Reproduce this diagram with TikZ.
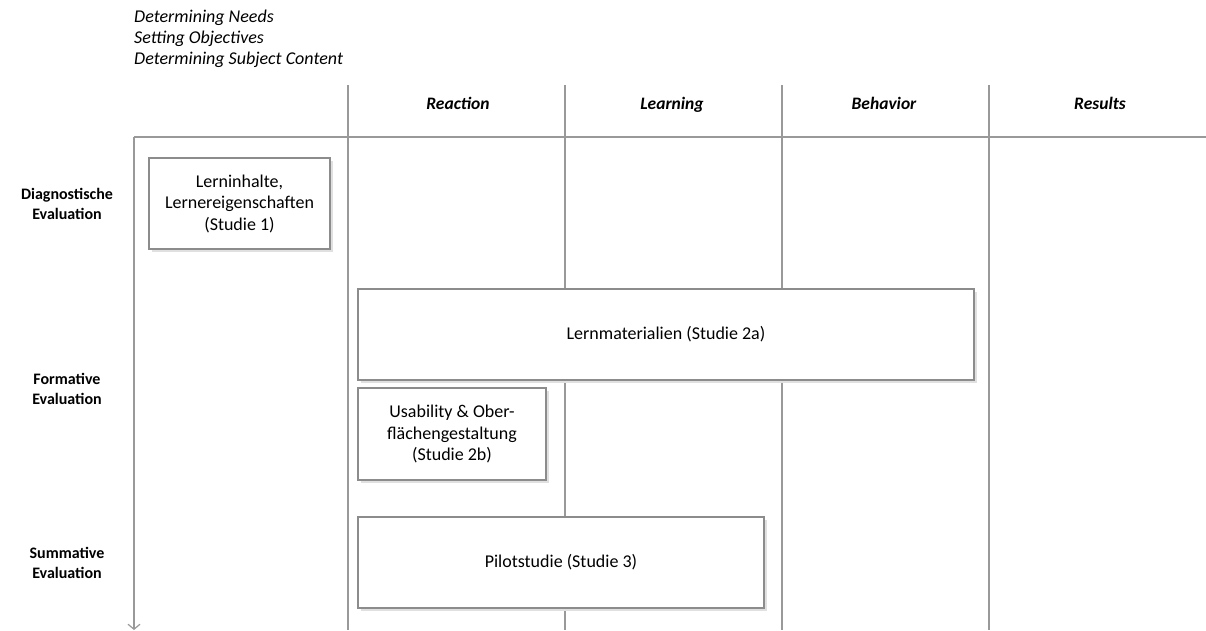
\documentclass[tikz,border=0pt]{standalone}
\usepackage{fontspec}
\setmainfont{Carlito}
\usetikzlibrary{arrows.meta}
\begin{document}
\begin{tikzpicture}[x=1pt,y=-1pt,
  gline/.style={draw=black!40, line width=1.2pt},
  sbox/.style={draw=black!45, line width=1.1pt, fill=white, align=center, font=\fontsize{18}{21.5}\selectfont, inner sep=0pt},
  rowlab/.style={font=\bfseries\fontsize{16}{20}\selectfont, align=center},
  colhead/.style={font=\bfseries\itshape\fontsize{17.5}{20}\selectfont, anchor=base},
  toptext/.style={font=\itshape\fontsize{18}{21}\selectfont, align=left, anchor=north west, inner sep=0pt}]
\useasboundingbox (0,0) rectangle (1206,630);
% top text
\node[toptext] (top) at (134,10) {Determining Needs\\Setting Objectives\\Determining Subject Content};
% column lines
\foreach \x/\n in {348/a,565/b,782/c,989/d}{
  \coordinate (ct\n) at (\x,85);
  \coordinate (cb\n) at (\x,630);
  \draw[gline] (ct\n) -- (cb\n);
}
% axes
\coordinate (origin) at (134,137);
\coordinate (xend) at (1206,137);
\coordinate (yend) at (134,630);
\draw[gline] (origin) -- (xend);
\draw[gline, -{Straight Barb[length=5pt,width=12pt]}] (origin) -- (yend);
% headers
\node[colhead] (h1) at (458,109) {Reaction};
\node[colhead] (h2) at (672,109) {Learning};
\node[colhead] (h3) at (884,109) {Behavior};
\node[colhead] (h4) at (1100,109) {Results};
% row labels
\node[rowlab] (r1) at (67,204) {Diagnostische\\Evaluation};
\node[rowlab] (r2) at (67,389) {Formative\\Evaluation};
\node[rowlab] (r3) at (67,563) {Summative\\Evaluation};
% shadows
\foreach \a/\b/\c/\d in {149/158/330/249, 358/289/974/380, 358/388/546/480, 358/517/764/608}{
  \fill[black!12] (\a+3,\b+3) rectangle (\c+3,\d+3);
}
% boxes
\node[sbox, minimum width=181pt, minimum height=91pt] (b1) at (239.5,203.5) {Lerninhalte,\\Lernereigenschaften\\(Studie 1)};
\node[sbox, minimum width=616pt, minimum height=91pt] (b2a) at (666,334.5) {Lernmaterialien (Studie 2a)};
\node[sbox, minimum width=188pt, minimum height=92pt] (b2b) at (452,434) {Usability \& Ober-\\flächengestaltung\\(Studie 2b)};
\node[sbox, minimum width=406pt, minimum height=91pt] (b3) at (561,562.5) {Pilotstudie (Studie 3)};
\end{tikzpicture}
\end{document}
